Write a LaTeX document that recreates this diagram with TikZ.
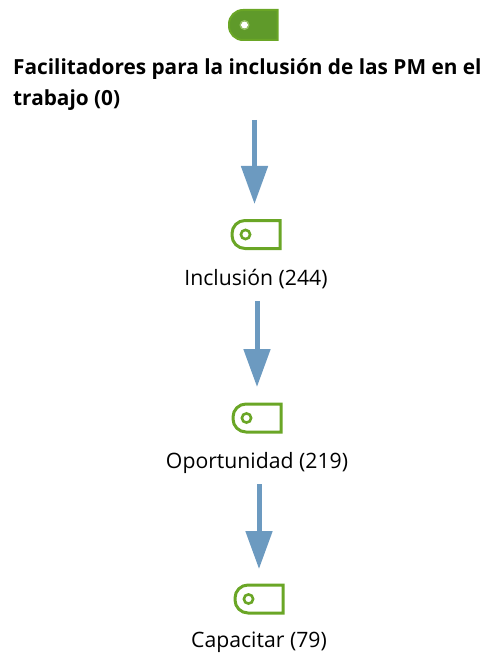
\documentclass[tikz,border=0pt]{standalone}
\usepackage{fontspec}
\setmainfont{Open Sans}
\usetikzlibrary{arrows.meta}
\definecolor{tagdark}{HTML}{6AA626}
\definecolor{tagfill}{HTML}{5F9A2A}
\definecolor{flow}{HTML}{6C9AC0}
\tikzset{
  x=1pt,y=-1pt,
  label text/.style={font=\fontsize{21.2}{28}\selectfont,inner sep=0pt,anchor=center},
  head text/.style={font=\fontsize{20.8}{31}\selectfont\bfseries,inner sep=0pt,anchor=north west,align=left},
  flow arrow/.style={draw=flow,line width=5pt,-{Triangle[length=38pt,width=26pt,fill=flow]}},
  tag outline/.pic={
    \draw[tagdark,line width=3pt,line join=miter,fill=white]
      (23.5,-14) -- (-11.5,-14) arc[start angle=270,end angle=180,radius=13] -- (-24.5,1) arc[start angle=180,end angle=90,radius=13] -- (23.5,14) -- cycle;
    \draw[tagdark,line width=2.6pt] (-11,0) circle[radius=4.6];
  },
  tag solid/.pic={
    \draw[tagdark,line width=2pt,fill=tagfill]
      (24,-15) -- (-10.5,-15) arc[start angle=270,end angle=180,radius=14] -- (-24.5,1) arc[start angle=180,end angle=90,radius=14] -- (24,15) -- cycle;
    \fill[white] (-9,0) circle[radius=3.6];
    \draw[tagdark!70!white,line width=1.2pt] (-9,0) circle[radius=4.4];
  },
}
\begin{document}
\begin{tikzpicture}
\useasboundingbox (0,0) rectangle (496,655);
\pic at (253.5,25) {tag solid};
\node[head text] (n0) at (13,58.5) {Facilitadores para la inclusión de las PM en el\\trabajo (0)};
\pic at (256.5,234.5) {tag outline};
\node[label text] (n1) at (256,279.5) {Inclusión (244)};
\pic at (257.5,418) {tag outline};
\node[label text] (n2) at (257,462.5) {Oportunidad (219)};
\pic at (259.5,599) {tag outline};
\node[label text] (n3) at (259,642.5) {Capacitar (79)};
\coordinate (a0) at (254.5,120);
\coordinate (b0) at (254.5,204);
\coordinate (a1) at (257,301);
\coordinate (b1) at (257,387);
\coordinate (a2) at (259,484);
\coordinate (b2) at (259,569);
\draw[flow arrow] (a0) -- (b0);
\draw[flow arrow] (a1) -- (b1);
\draw[flow arrow] (a2) -- (b2);
\end{tikzpicture}
\end{document}
